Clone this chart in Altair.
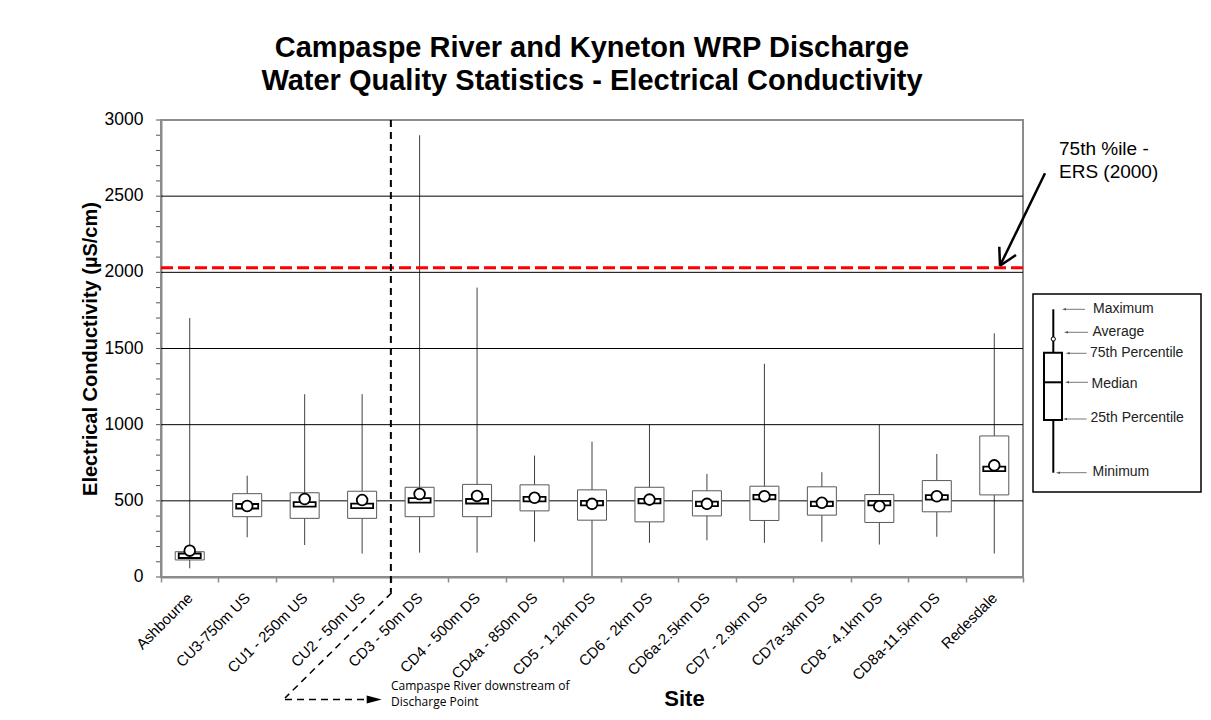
import altair as alt
import pandas as pd

# ---------------- data ----------------
sites = ["Ashbourne", "CU3-750m US", "CU1 - 250m US", "CU2 - 50m US", "CD3 - 50m DS",
         "CD4 - 500m DS", "CD4a - 850m DS", "CD5 - 1.2km DS", "CD6 - 2km DS",
         "CD6a-2.5km DS", "CD7 - 2.9km DS", "CD7a-3km DS", "CD8 - 4.1km DS",
         "CD8a-11.5km DS", "Redesdale"]
ec_min = [57, 261, 210, 154, 160, 160, 231, 5, 224, 241, 224, 231, 213, 264, 154]
ec_q1 = [112, 396, 385, 385, 396, 396, 434, 373, 362, 401, 371, 406, 358, 428, 539]
ec_median = [141, 466, 479, 468, 505, 499, 513, 487, 500, 482, 526, 482, 487, 524, 712]
ec_q3 = [166, 547, 553, 563, 589, 608, 605, 572, 589, 566, 596, 592, 541, 633, 926]
ec_max = [1700, 665, 1200, 1200, 2900, 1900, 797, 889, 1000, 677, 1400, 688, 1000, 808, 1600]
ec_mean = [173, 466, 512, 505, 545, 532, 520, 480, 508, 480, 530, 487, 465, 530, 733]

guideline_value = [2030]
guideline_text = ["75th %ile -", "ERS (2000)"]
divider_site = ["CD3 - 50m DS"]
divider_text = ["Campaspe River downstream of", "Discharge Point"]
legend_labels = ["Maximum", "Average", "75th Percentile", "Median", "25th Percentile", "Minimum"]
title_lines = ["Campaspe River and Kyneton WRP Discharge",
               "Water Quality Statistics - Electrical Conductivity"]
y_major_ticks = [0, 500, 1000, 1500, 2000, 2500, 3000]
y_major_labels = ["0", "500", "1000", "1500", "2000", "2500", "3000"]
y_all_ticks = list(range(0, 3001, 100))
y_grid_values = [500, 1000, 1500, 2000, 2500]

df = pd.DataFrame({"site": sites, "min": ec_min, "q1": ec_q1, "median": ec_median,
                   "q3": ec_q3, "max": ec_max, "mean": ec_mean})

# ---------------- layout / style ----------------
W, H = 862, 457
FONT = "Liberation Sans"
GRAY = "#8c8c8c"
Y_TITLE = "Electrical Conductivity (µS/cm)"

x_scale = alt.Scale(paddingInner=0, paddingOuter=0)
y_scale = alt.Scale(domain=[0, 3000], nice=False, zero=True)

x_axis = alt.Axis(
    title="Site", labelAngle=-45, labelAlign="right", labelBaseline="top",
    labelFont=FONT, labelFontSize=15, labelColor="black", labelPadding=8, labelOffset=-5,
    labelOverlap=False, tickBand="extent", tickSize=5, tickColor=GRAY, tickWidth=1.5,
    domainColor=GRAY, domainWidth=2, grid=False,
    titleFont=FONT, titleFontSize=22, titleFontWeight="bold", titleColor="black",
    titleX=523, titleY=128.5, titleAlign="center", titleBaseline="alphabetic",
)
y_axis = alt.Axis(
    title=Y_TITLE, labels=False, ticks=False,
    domainColor=GRAY, domainWidth=2, grid=False,
    titleFont=FONT, titleFontSize=20, titleFontWeight="bold", titleColor="black",
    titleX=-71, titleY=H / 2, titleAngle=-90, titleAlign="center", titleBaseline="middle",
)


def xf(**kw):
    return alt.X("site:N", sort=sites, scale=x_scale, axis=x_axis, **kw)


def yf(field):
    return alt.Y(field, scale=y_scale, axis=y_axis)


base = alt.Chart(df)

whisker = base.mark_rule(color="#404040", strokeWidth=1).encode(
    x=xf(), y=yf("min:Q"), y2="max:Q")
box = base.mark_bar(size=29, fill="white", stroke="#595959", strokeWidth=1).encode(
    x=xf(), y=yf("q1:Q"), y2="q3:Q")
median = base.mark_bar(size=22, fill="white", stroke="black", strokeWidth=1.8,
                       yOffset=-2, y2Offset=2.5).encode(
    x=xf(), y=yf("median:Q"), y2="median:Q")
mean = base.mark_point(shape="circle", filled=True, fill="white", stroke="black",
                       strokeWidth=1.8, size=115, opacity=1).encode(
    x=xf(), y=yf("mean:Q"))

grid = alt.Chart(pd.DataFrame({"g": y_grid_values})).mark_rule(
    color="black", strokeWidth=1).encode(y=yf("g:Q"))

ticks = alt.Chart(pd.DataFrame({"t": y_all_ticks})).mark_rule(
    color="#555555", strokeWidth=1).encode(y=yf("t:Q"), x=alt.value(-5), x2=alt.value(-1))

tick_labels = alt.Chart(pd.DataFrame({"t": y_major_ticks, "lbl": y_major_labels})).mark_text(
    align="right", baseline="middle", font=FONT, fontSize=17.5, color="black"
).encode(y=yf("t:Q"), text="lbl:N", x=alt.value(-17.5))

guide = alt.Chart(pd.DataFrame({"v": guideline_value})).mark_rule(
    color="#ff0000", strokeDash=[12, 5], strokeWidth=3).encode(y=yf("v:Q"))

divider = alt.Chart(pd.DataFrame({"site": divider_site})).mark_rule(
    color="black", strokeDash=[7, 5], strokeWidth=2
).encode(x=xf(bandPosition=0), y=alt.value(0), y2=alt.value(472.7))

layers = [whisker, grid, ticks, tick_labels, box, median, mean, guide, divider]


def line(x1, y1, x2, y2, color="black", width=1.0, dash=None):
    kw = dict(color=color, strokeWidth=width)
    if dash:
        kw["strokeDash"] = dash
    return alt.Chart(pd.DataFrame({"k": [0]})).mark_rule(**kw).encode(
        x=alt.value(x1), y=alt.value(y1), x2=alt.value(x2), y2=alt.value(y2))


def label(txt, x, y, size, font=FONT, align="left", color="black"):
    return alt.Chart(pd.DataFrame({"k": [0]})).mark_text(
        text=txt, font=font, fontSize=size, align=align, baseline="middle", color=color
    ).encode(x=alt.value(x), y=alt.value(y))


# divider annotation (dashed leader + arrow + text)
layers.append(line(230.7, 472.7, 124, 578, width=1.5, dash=[7, 5]))
layers.append(line(124, 579.5, 210, 579.5, width=1.5, dash=[7, 5]))
layers.append(alt.Chart(pd.DataFrame({"k": [0]})).mark_point(
    shape="M-1,-0.53L1,0L-1,0.53Z", filled=True, color="black", size=225, opacity=1
).encode(x=alt.value(213.2), y=alt.value(579.5)))
layers.append(label(divider_text[0], 230, 566, 12, font="Open Sans"))
layers.append(label(divider_text[1], 230, 582, 12, font="Open Sans"))

# guideline annotation (arrow + text)
layers.append(line(884, 53.3, 839, 145.7, width=2.5))
layers.append(line(839, 145.7, 855, 135, width=2.5))
layers.append(line(839, 145.7, 838.3, 126.7, width=2.5))
layers.append(label(guideline_text[0], 898, 29, 19))
layers.append(label(guideline_text[1], 898, 52, 19))

# explanatory legend box
layers.append(alt.Chart(pd.DataFrame({"k": [0]})).mark_rect(
    fill="white", stroke="black", strokeWidth=1.5
).encode(x=alt.value(872), x2=alt.value(1040), y=alt.value(174), y2=alt.value(372)))
layers.append(line(892.3, 189.3, 892.3, 352.7, width=2))
layers.append(alt.Chart(pd.DataFrame({"k": [0]})).mark_rect(
    fill="white", stroke="black", strokeWidth=2
).encode(x=alt.value(883), x2=alt.value(901), y=alt.value(232.7), y2=alt.value(300)))
layers.append(line(884, 262.3, 900, 262.3, width=2))
layers.append(alt.Chart(pd.DataFrame({"k": [0]})).mark_point(
    shape="circle", filled=True, fill="white", stroke="black", strokeWidth=1, size=18, opacity=1
).encode(x=alt.value(892.3), y=alt.value(219)))

legend_layout = [  # (arrow x start, arrow x end, arrow y, label x, label y)
    (901, 924, 189.3, 932, 189),
    (903, 927, 212.3, 931.5, 212),
    (904.7, 925.7, 233.3, 929, 233),
    (904, 927, 262.3, 930.5, 264),
    (902, 925.7, 299, 929.5, 298),
    (895, 925.7, 352.7, 931.5, 351.7),
]
for text, (ax1, ax2, ay, lx, ly) in zip(legend_labels, legend_layout):
    layers.append(line(ax1 + 3, ay, ax2, ay, color="#555555", width=0.8))
    layers.append(alt.Chart(pd.DataFrame({"k": [0]})).mark_point(
        shape="M1,-0.6L-1,0L1,0.6Z", filled=True, color="#555555", size=16, opacity=1
    ).encode(x=alt.value(ax1 + 2), y=alt.value(ay)))
    layers.append(label(text, lx, ly, 14, color="#222222"))

chart = alt.layer(*layers).properties(
    width=W, height=H,
    title=alt.TitleParams(text=title_lines, font=FONT, fontSize=29, fontWeight="bold",
                          lineHeight=33, anchor="middle", offset=15, color="black"),
    autosize=alt.AutoSizeParams(type="none"),
    padding={"left": 153, "top": 112, "right": 180, "bottom": 134},
).configure_view(stroke=GRAY, strokeWidth=2)

chart.save("out.html", embed_options={"renderer": "svg", "actions": False})
